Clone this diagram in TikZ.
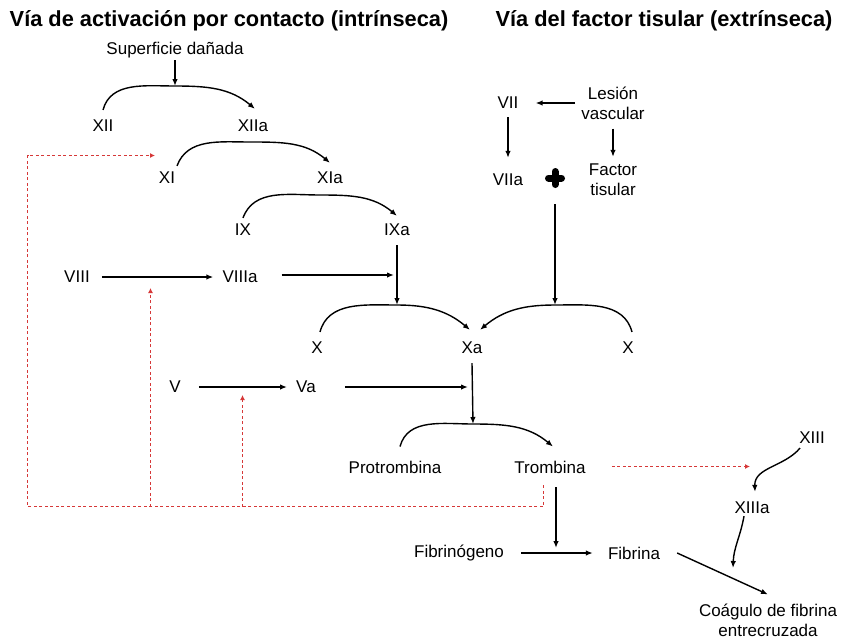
\documentclass[tikz,border=0pt]{standalone}
\usepackage{fontspec}
\setmainfont{Liberation Sans}
\usetikzlibrary{arrows.meta}
\definecolor{fbred}{RGB}{214,56,56}

\begin{document}
\begin{tikzpicture}[x=1pt, y=-1pt,
    lbl/.style = {inner sep=2pt, align=center, font=\fontsize{17}{20}\selectfont},
    ttl/.style = {inner sep=0pt, font=\fontsize{21.8}{26}\selectfont\bfseries},
    arr/.style = {black, line width=1.4pt, >={Latex[length=7pt,width=5.5pt]}, ->},
    fb/.style  = {draw=fbred, line width=1.3pt, dash pattern=on 3pt off 2.5pt, >={Latex[length=5pt,width=5pt]}, ->},]

  \useasboundingbox (0,0) rectangle (841,641);

  %% TITLES
  \node[ttl] (ttlL) at (229,21) {Vía de activación por contacto (intrínseca)};
  \node[ttl] (ttlR) at (664,21) {Vía del factor tisular (extrínseca)};

  %% INTRINSIC PATHWAY
  \node[lbl] (sup)   at (175,50)  {Superficie dañada};
  \node[lbl] (XII)   at (103,126) {XII};
  \node[lbl] (XIIa)  at (253,126) {XIIa};
  \node[lbl] (XI)    at (167,178) {XI};
  \node[lbl] (XIa)   at (330,178) {XIa};
  \node[lbl] (IX)    at (243,230) {IX};
  \node[lbl] (IXa)   at (397,230) {IXa};
  \node[lbl] (VIII)  at (77,277)  {VIII};
  \node[lbl] (VIIIa) at (240,277) {VIIIa};
  \coordinate (k12) at (175,86);
  \coordinate (k11) at (250,142);
  \coordinate (k9)  at (320,195);

  \draw[arr] (sup.south) -- (k12);
  \draw[arr] ([yshift=8pt]XII.north) to[out=75,in=180] (k12) to[out=0,in=140] ([xshift=2pt,yshift=9pt]XIIa.north);
  \draw[arr] ([xshift=10pt,yshift=4pt]XI.north) to[out=70,in=180] (k11) to[out=0,in=140] ([yshift=7pt]XIa.north);
  \draw[arr] ([yshift=4pt]IX.north) to[out=70,in=180] (k9) to[out=0,in=140] ([yshift=6pt]IXa.north);
  \draw[arr] ([xshift=10pt]VIII.east) -- ([xshift=-7pt]VIIIa.west);
  \draw[arr, shorten >=3pt] ([xshift=22pt,yshift=2pt]VIIIa.east) -- ([yshift=2pt]VIIIa.east -| IXa.south);

  %% EXTRINSIC PATHWAY
  \node[lbl] (VII)  at (508,103) {VII};
  \node[lbl] (les)  at (613,103) {Lesión\\vascular};
  \node[lbl] (VIIa) at (508,180) {VIIa};
  \node[lbl] (tf)   at (613,180) {Factor\\tisular};
  \node (plus) at (555,178) [minimum width=20pt, minimum height=52pt, inner sep=0pt] {};
  \draw[line width=7pt, line cap=round] ([xshift=-6.5pt]plus.center) -- ([xshift=6.5pt]plus.center)
        ([yshift=-6.5pt]plus.center) -- ([yshift=6.5pt]plus.center);

  \draw[arr] ([xshift=-4pt]les.west) -- ([xshift=15pt]VII.east);
  \draw[arr] ([yshift=-6pt]VII.south) -- ([yshift=14pt]VIIa.north);
  \draw[arr] ([yshift=-7pt]les.south) -- ([yshift=5pt]tf.north);

  %% COMMON PATHWAY
  \node[lbl] (X1) at (317,348) {X};
  \node[lbl] (Xa) at (472,348) {Xa};
  \node[lbl] (X2) at (628,348) {X};
  \node[lbl] (V)  at (175,387) {V};
  \node[lbl] (Va) at (306,387) {Va};
  \node[lbl] (pro) at (395,467) {Protrombina};
  \node[lbl] (tro) at (550,467) {Trombina};
  \coordinate (kX1) at (397,305);
  \coordinate (kX2) at (555,305);
  \coordinate (kP)  at (473,424);

  \draw[arr] ([yshift=-7pt]IXa.south) -- (kX1);
  \draw[arr] (plus.south) -- (kX2);
  \draw[arr] ([xshift=3pt,yshift=8pt]X1.north) to[out=75,in=180] (kX1) to[out=0,in=140] ([xshift=-2pt,yshift=10pt]Xa.north);
  \draw[arr] ([xshift=4pt,yshift=8pt]X2.north) to[out=105,in=0] (kX2) to[out=180,in=40] ([xshift=8pt,yshift=10pt]Xa.north);
  \draw[arr] ([xshift=16pt]V.east) -- ([xshift=-7pt]Va.west);
  \draw[arr, shorten >=4pt] ([xshift=27pt]Va.east) -- (Va.east -| Xa.south);
  \draw[arr] ([yshift=-7pt]Xa.south) -- (kP);
  \draw[arr] ([xshift=5pt,yshift=12pt]pro.north) to[out=75,in=180] (kP) to[out=0,in=140] ([xshift=3pt,yshift=12pt]tro.north);

  %% FIBRIN
  \node[lbl] (fgen) at (459,553) {Fibrinógeno};
  \node[lbl] (fib)  at (634,553) {Fibrina};
  \node[lbl] (XIII)  at (812,438) {XIII};
  \node[lbl] (XIIIa) at (752,508) {XIIIa};
  \node[lbl] (clot)  at (768,620) {Coágulo de fibrina\\entrecruzada};
  \coordinate (kF)  at (556,551);
  \coordinate (kC)  at (733,568);
  \coordinate (k13) at (750,466.5);

  \draw[arr, shorten >=3pt] ([xshift=6pt,yshift=-12pt]tro.south) -- (kF);
  \draw[arr] ([xshift=15pt]fgen.east) -- ([xshift=-13pt]fib.west);
  \draw[arr] ([xshift=15pt]fib.east) -- ([yshift=7pt]clot.north);
  \draw[arr] ([xshift=3pt,yshift=-2pt]XIII.south west) to[out=230,in=92] ([xshift=3pt,yshift=8pt]XIIIa.north);
  \draw[arr] ([xshift=-8pt]XIIIa.south) to[out=260,in=88] (kC);

  %% FEEDBACK OF THROMBIN
  \coordinate (fbL)    at (27.5,506.5);
  \coordinate (fbXI)   at (155,155.5);
  \coordinate (fbVIII) at (150.5,288);
  \coordinate (fbV)    at (242.5,395);
  \draw[fb] ([xshift=-6.5pt,yshift=-10pt]tro.south) |- (fbL) |- (fbXI);
  \draw[fb] (fbVIII |- fbL) -- (fbVIII);
  \draw[fb] (fbV |- fbL) -- (fbV);
  \draw[fb] ([xshift=24pt]tro.east |- k13) -- (k13);
\end{tikzpicture}
\end{document}
